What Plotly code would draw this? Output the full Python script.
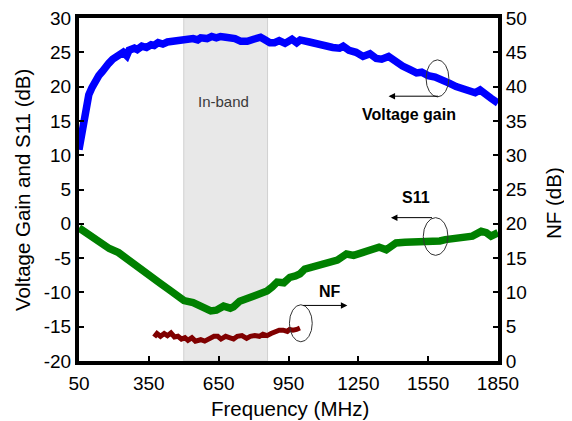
import plotly.graph_objects as go

# ---- data ----
gain_freq = [50, 58, 63, 71, 78, 84, 92, 105, 115, 125, 135, 150, 165, 178, 195, 210, 225, 240, 255, 265,
             288, 300, 320, 340, 360, 373, 390, 410, 430, 458, 480, 500, 520, 540, 560, 573, 600, 620, 640, 658,
             680, 700, 720, 745, 773, 800, 830, 845, 870, 890, 910, 935, 965, 985, 1000, 1040, 1080, 1110, 1140,
             1169, 1185, 1210, 1240, 1270, 1300, 1327, 1350, 1380, 1412, 1440, 1470, 1500, 1522, 1550, 1580,
             1610, 1640, 1670, 1700, 1730, 1752, 1773, 1800, 1820, 1850]
gain_db = [10.8, 12.5, 13.5, 14.5, 16.5, 17.5, 18.8, 19.8, 20.6, 21.0, 21.6, 22.2, 23.0, 23.4, 24.0, 24.3,
           24.8, 25.0, 24.5, 25.3, 25.6, 25.4, 25.9, 25.7, 26.1, 26.0, 26.4, 26.2, 26.5, 26.6, 26.8, 26.9, 26.9,
           27.0, 26.8, 27.1, 27.0, 27.3, 27.1, 27.3, 27.2, 27.2, 27.0, 26.6, 26.6, 26.9, 27.2, 26.9, 26.4, 26.4,
           26.7, 26.3, 26.9, 26.4, 26.8, 26.5, 26.1, 25.9, 25.7, 25.6, 25.9, 25.3, 25.0, 24.4, 24.8, 24.1, 24.0,
           24.4, 23.5, 23.0, 22.5, 22.0, 22.1, 21.6, 21.4, 20.8, 20.5, 20.0, 19.6, 19.4, 19.1, 19.5, 18.7, 18.3,
           17.6]

s11_freq = [50, 63, 80, 105, 125, 148, 180, 220, 250, 288, 320, 361, 400, 433, 470, 501, 540, 573, 600, 616,
            640, 671, 700, 714, 740, 773, 810, 858, 880, 901, 930, 956, 980, 999, 1020, 1054, 1090, 1127, 1160,
            1199, 1230, 1267, 1300, 1339, 1370, 1412, 1450, 1490, 1522, 1560, 1600, 1624, 1660, 1709, 1740,
            1778, 1800, 1820, 1850]
s11_db = [-0.6, -0.9, -1.4, -2.0, -2.5, -3.0, -3.6, -4.2, -5.0, -5.9, -6.6, -7.8, -8.7, -9.5, -10.3, -11.2,
          -11.5, -12.1, -12.5, -12.7, -12.6, -12.0, -12.3, -12.1, -11.3, -10.9, -10.5, -9.8, -9.2, -8.5, -8.6,
          -7.8, -7.6, -7.3, -6.6, -6.3, -6.0, -5.6, -5.3, -4.4, -4.6, -4.2, -3.9, -3.4, -3.8, -2.8, -2.7, -2.7,
          -2.7, -2.6, -2.5, -2.3, -2.1, -1.8, -1.8, -1.1, -1.3, -1.8, -1.3]

nf_freq = [373, 385, 400, 416, 430, 445, 460, 475, 490, 505, 518, 535, 550, 573, 590, 610, 630, 646, 660,
           680, 700, 714, 730, 750, 770, 786, 805, 825, 840, 858, 875, 895, 910, 927, 945, 955, 969, 985, 999]
nf_db = [3.5, 4.0, 3.6, 4.0, 3.7, 4.1, 3.5, 3.6, 3.2, 3.4, 3.0, 3.4, 2.9, 3.1, 2.9, 3.3, 3.6, 3.6, 3.2,
         3.6, 3.4, 3.2, 3.6, 3.7, 3.3, 3.6, 3.7, 3.6, 3.9, 3.7, 4.0, 4.4, 4.5, 4.5, 4.3, 4.6, 4.5, 4.6, 4.8]

x_ticks = [50, 350, 650, 950, 1250, 1550, 1850]
y_left_ticks = [-20, -15, -10, -5, 0, 5, 10, 15, 20, 25, 30]
y_right_ticks = [0, 5, 10, 15, 20, 25, 30, 35, 40, 45, 50]
band = [500, 860]

FONT = "Liberation Sans, Arial, sans-serif"
W, H = 572, 421
OFF = 8  # page body margin
ML, MR, MT, MB = 71, 82, 10, 68
PW, PH = W - ML - MR, H - MT - MB


def px(xp):
    return (xp - OFF - ML) / PW


def py(yp):
    return 1 - (yp - OFF - MT) / PH


fig = go.Figure()
fig.add_trace(go.Scatter(x=gain_freq, y=gain_db, mode="lines", line=dict(color="#0000ff", width=7.5),
                         showlegend=False, hoverinfo="skip"))
fig.add_trace(go.Scatter(x=s11_freq, y=s11_db, mode="lines", line=dict(color="#008000", width=7.5),
                         showlegend=False, hoverinfo="skip"))
fig.add_trace(go.Scatter(x=nf_freq, y=nf_db, mode="lines", line=dict(color="#800000", width=5),
                         showlegend=False, hoverinfo="skip", yaxis="y2"))

# in-band shading
fig.add_shape(type="rect", xref="x", yref="paper", x0=band[0], x1=band[1], y0=0, y1=1,
              fillcolor="#e8e8e8", line=dict(color="#d0d0d0", width=1), layer="below")

# ellipses
ell = dict(color="#333333", width=1)
fig.add_shape(type="circle", xref="x", yref="y", x0=1541, x1=1639, y0=18.5, y1=23.9, line=ell)
fig.add_shape(type="circle", xref="x", yref="y", x0=1529, x1=1635, y0=-4.6, y1=0.9, line=ell)
fig.add_shape(type="circle", xref="x", yref="y", x0=954, x1=1052, y0=-17.2, y1=-11.8, line=ell)

# arrows
arr = dict(showarrow=True, arrowhead=2, arrowsize=1.3, arrowwidth=1, arrowcolor="black",
           axref="x", ayref="y", xref="x", yref="y", text="")
fig.add_annotation(x=1380, y=18.6, ax=1599, ay=18.6, **arr)
fig.add_annotation(x=1390, y=0.9, ax=1573, ay=0.9, **arr)
fig.add_annotation(x=1203, y=-11.9, ax=1007, ay=-11.9, **arr)

lab = dict(showarrow=False, xref="x", yref="y", font=dict(family=FONT, size=16, color="black"))
fig.add_annotation(x=1467, y=15.9, text="<b>Voltage gain</b>", **lab)
fig.add_annotation(x=1497, y=3.8, text="<b>S11</b>", **lab)
fig.add_annotation(x=1127, y=-9.9, text="<b>NF</b>", **lab)
fig.add_annotation(x=671, y=17.9, text="In-band", showarrow=False, xref="x", yref="y",
                   font=dict(family=FONT, size=15, color="#3a3a3a"))

# axis titles
tfont = dict(family=FONT, size=20.5, color="black")
ttl = dict(xref="paper", yref="paper", showarrow=False, font=tfont, xanchor="center", yanchor="middle")
fig.add_annotation(x=px(22), y=py(190), text="Voltage Gain and S11 (dB)", textangle=-90, **ttl)
fig.add_annotation(x=px(553), y=py(203), text="NF (dB)", textangle=-90, **ttl)
fig.add_annotation(x=px(290), y=py(408), text="Frequency (MHz)", **ttl)

tickfont = dict(family=FONT, size=19, color="black")

common = dict(showgrid=False, zeroline=False, showline=True, linewidth=4, linecolor="black",
              ticks="inside", ticklen=5, tickwidth=1.5, tickcolor="black", tickfont=tickfont,
              automargin=False, ticklabeloverflow="allow")

fig.update_layout(
    width=W, height=H,
    margin=dict(l=ML, r=MR, t=MT, b=MB),
    paper_bgcolor="white", plot_bgcolor="white",
    xaxis=dict(range=[50, 1850], tickvals=x_ticks, ticktext=[str(v) for v in x_ticks], mirror=True,
               ticklabelstandoff=2, **common),
    yaxis=dict(range=[-20, 30], tickvals=y_left_ticks, ticktext=[str(v) for v in y_left_ticks], **common),
    yaxis2=dict(range=[0, 50], tickvals=y_right_ticks, ticktext=[str(v) for v in y_right_ticks],
                overlaying="y", side="right", **common),
)

fig.write_html("out.html")
